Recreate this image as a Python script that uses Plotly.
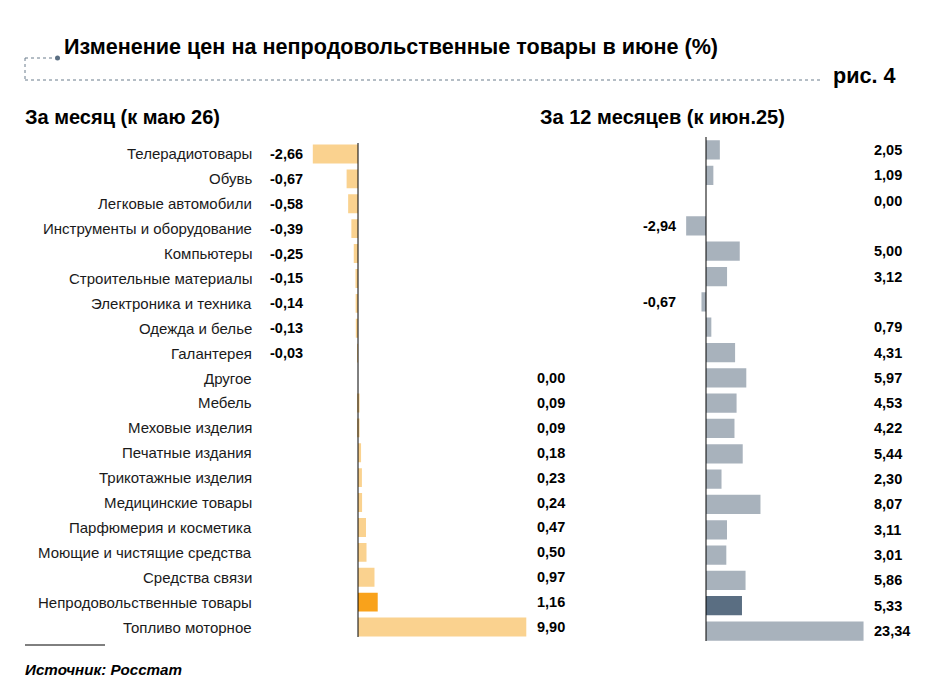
import plotly.graph_objects as go

categories = ["Телерадиотовары", "Обувь", "Легковые автомобили", "Инструменты и оборудование",
              "Компьютеры", "Строительные материалы", "Электроника и техника", "Одежда и белье",
              "Галантерея", "Другое", "Мебель", "Меховые изделия", "Печатные издания",
              "Трикотажные изделия", "Медицинские товары", "Парфюмерия и косметика",
              "Моющие и чистящие средства", "Средства связи", "Непродовольственные товары",
              "Топливо моторное"]
month_values = [-2.66, -0.67, -0.58, -0.39, -0.25, -0.15, -0.14, -0.13, -0.03, 0.00,
                0.09, 0.09, 0.18, 0.23, 0.24, 0.47, 0.50, 0.97, 1.16, 9.90]
year_values = [2.05, 1.09, 0.00, -2.94, 5.00, 3.12, -0.67, 0.79, 4.31, 5.97,
               4.53, 4.22, 5.44, 2.30, 8.07, 3.11, 3.01, 5.86, 5.33, 23.34]
highlight = "Непродовольственные товары"

W, H = 933, 682
FONT = "Liberation Sans, Arial, sans-serif"

def px(x):
    return x / W

def py(y):
    return 1 - y / H

col_m = ["#F9A21B" if c == highlight else "#FAD28F" for c in categories]
col_y = ["#5A6E82" if c == highlight else "#A8B2BC" for c in categories]

fig = go.Figure()
fig.add_trace(go.Bar(y=categories, x=month_values, orientation="h", marker=dict(color=col_m, line_width=0),
                     xaxis="x", yaxis="y", hoverinfo="x+y"))
fig.add_trace(go.Bar(y=categories, x=year_values, orientation="h", marker=dict(color=col_y, line_width=0),
                     xaxis="x2", yaxis="y2", hoverinfo="x+y"))

sL, zL = 17.0, 358
xrL = [-2.7, 10.0]
sR, zR = 6.75, 706
xrR = [-3.0, 23.5]

def fmt(v):
    return f"{v:.2f}".replace(".", ",")

CAT_SIZE = 15
VAL_SIZE = 14.5

ann = []
for c, v in zip(categories, month_values):
    ann.append(dict(xref="paper", yref="y", x=px(254), y=c, text=c, showarrow=False, xanchor="right",
                    font=dict(size=CAT_SIZE, color="#1a1a1a", family=FONT)))
    if v < 0:
        ann.append(dict(xref="paper", yref="y", x=px(305), y=c, text="<b>" + fmt(v) + "</b>", showarrow=False,
                        xanchor="right", font=dict(size=VAL_SIZE, color="#000", family=FONT)))
    else:
        ann.append(dict(xref="paper", yref="y", x=px(535), y=c, text="<b>" + fmt(v) + "</b>", showarrow=False,
                        xanchor="left", font=dict(size=VAL_SIZE, color="#000", family=FONT)))
for c, v in zip(categories, year_values):
    if v < 0:
        ann.append(dict(xref="paper", yref="y2", x=px(641), y=c, text="<b>" + fmt(v) + "</b>", showarrow=False,
                        xanchor="left", font=dict(size=VAL_SIZE, color="#000", family=FONT)))
    else:
        ann.append(dict(xref="paper", yref="y2", x=px(872), y=c, text="<b>" + fmt(v) + "</b>", showarrow=False,
                        xanchor="left", font=dict(size=VAL_SIZE, color="#000", family=FONT)))

ann += [
    dict(xref="paper", yref="paper", x=px(62), y=py(47), text="<b>Изменение цен на непродовольственные товары в июне (%)</b>",
         showarrow=False, xanchor="left", yanchor="middle", font=dict(size=21.6, color="#000", family=FONT)),
    dict(xref="paper", yref="paper", x=px(831), y=py(75), text="<b>рис. 4</b>",
         showarrow=False, xanchor="left", yanchor="middle", font=dict(size=21.6, color="#000", family=FONT)),
    dict(xref="paper", yref="paper", x=px(23), y=py(117), text="<b>За месяц (к маю 26)</b>",
         showarrow=False, xanchor="left", yanchor="middle", font=dict(size=20, color="#000", family=FONT)),
    dict(xref="paper", yref="paper", x=px(538), y=py(117), text="<b>За 12 месяцев (к июн.25)</b>",
         showarrow=False, xanchor="left", yanchor="middle", font=dict(size=20, color="#000", family=FONT)),
    dict(xref="paper", yref="paper", x=px(23), y=py(669), text="<b><i>Источник: Росстат</i></b>",
         showarrow=False, xanchor="left", yanchor="middle", font=dict(size=15.2, color="#000", family=FONT)),
]

shapes = [
    dict(type="line", xref="x", yref="paper", x0=0, x1=0, y0=py(143), y1=py(637), line=dict(color="#000", width=1)),
    dict(type="line", xref="x2", yref="paper", x0=0, x1=0, y0=py(137), y1=py(641), line=dict(color="#000", width=1)),
    dict(type="line", xref="paper", yref="paper", x0=px(25), x1=px(820), y0=py(80), y1=py(80),
         line=dict(color="#6B7C8C", width=1, dash="dot")),
    dict(type="line", xref="paper", yref="paper", x0=px(25), x1=px(25), y0=py(58), y1=py(80),
         line=dict(color="#6B7C8C", width=1, dash="dot")),
    dict(type="line", xref="paper", yref="paper", x0=px(25), x1=px(55), y0=py(58), y1=py(58),
         line=dict(color="#6B7C8C", width=1, dash="dot")),
    dict(type="circle", xref="paper", yref="paper", x0=px(55), x1=px(60), y0=py(60.5), y1=py(55.5),
         fillcolor="#5A6E82", line=dict(width=0)),
    dict(type="line", xref="paper", yref="paper", x0=px(25), x1=px(105), y0=py(645), y1=py(645),
         line=dict(color="#000", width=1)),
]

fig.update_layout(
    width=W, height=H, margin=dict(l=0, r=0, t=0, b=0),
    paper_bgcolor="white", plot_bgcolor="rgba(0,0,0,0)",
    showlegend=False, bargap=0.24,
    xaxis=dict(domain=[px(zL + xrL[0] * sL), px(zL + xrL[1] * sL)], range=xrL, visible=False, fixedrange=True),
    yaxis=dict(domain=[py(639.5), py(141.5)], autorange="reversed", visible=False, type="category",
               categoryorder="array", categoryarray=categories),
    xaxis2=dict(domain=[px(zR + xrR[0] * sR), px(zR + xrR[1] * sR)], range=xrR, visible=False, fixedrange=True),
    yaxis2=dict(domain=[py(643.7), py(137.3)], autorange="reversed", visible=False, type="category",
                anchor="x2", categoryorder="array", categoryarray=categories),
    annotations=ann, shapes=shapes,
)
fig.write_html("out.html")
